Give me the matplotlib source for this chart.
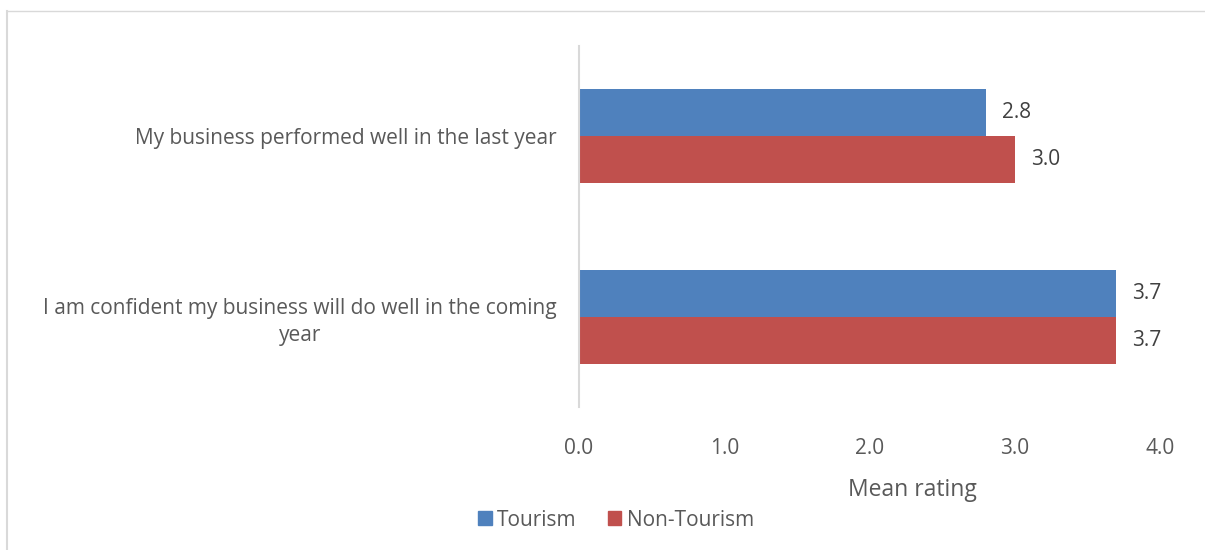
import matplotlib.pyplot as plt
from matplotlib.lines import Line2D
from matplotlib.patches import Patch

plt.rcParams['font.family'] = ['Open Sans', 'DejaVu Sans']

# survey statements, bottom to top
statements = ['I am confident my business will do well in the coming\nyear',
              'My business performed well in the last year']
tourism = [3.7, 2.8]
non_tourism = [3.7, 3.0]
series_names = ['Tourism', 'Non-Tourism']
xticks = [0.0, 1.0, 2.0, 3.0, 4.0]

blue = '#4F81BD'
red = '#C0504D'
txt = '#595959'
fs = 15

fig = plt.figure(figsize=(12.05, 5.5), dpi=100)
ax = fig.add_axes([0.4805, 0.26, 0.482, 0.6564])

h = 0.26
ypos = list(range(len(statements)))
b1 = ax.barh([y + h / 2 for y in ypos], tourism, height=h, color=blue, label=series_names[0])
b2 = ax.barh([y - h / 2 for y in ypos], non_tourism, height=h, color=red, label=series_names[1])

# value labels just past the bar ends
for bars, vals in ((b1, tourism), (b2, non_tourism)):
    for bar, v in zip(bars, vals):
        ax.annotate('{:.1f}'.format(v), (v, bar.get_y() + bar.get_height() / 2),
                    xytext=(16, 0), textcoords='offset pixels',
                    ha='left', va='center', fontsize=fs, color='#404040')

ax.set_xlim(0, 4)
ax.set_ylim(-0.5, 1.5)
ax.set_xticks(xticks)
ax.set_xticklabels(['{:.1f}'.format(t) for t in xticks], fontsize=fs, color=txt)
ax.set_yticks(ypos)
ax.set_yticklabels(statements, fontsize=fs, color=txt, multialignment='center', linespacing=1.35)
ax.tick_params(axis='x', length=0, pad=22)
ax.tick_params(axis='y', length=0, pad=16)
for s in ['top', 'right', 'bottom']:
    ax.spines[s].set_visible(False)
ax.spines['left'].set_color('#D9D9D9')
ax.spines['left'].set_linewidth(1.5)

fig.text(912 / 1205, 1 - 490 / 550, 'Mean rating', ha='center', va='center',
         fontsize=16.5, color=txt)

handles = [Patch(color=blue), Patch(color=red)]
fig.legend(handles, series_names, loc='center', bbox_to_anchor=(616 / 1205, 1 - 520 / 550),
           ncol=2, frameon=False, fontsize=fs, labelcolor=txt,
           handlelength=0.65, handleheight=0.65, handletextpad=0.25, columnspacing=1.5)

# chart frame (left and top edges)
fig.add_artist(Line2D([7.5 / 1205, 7.5 / 1205], [0, 1 - 11 / 550], color='#D9D9D9', lw=1.5))
fig.add_artist(Line2D([7.5 / 1205, 1], [1 - 11 / 550, 1 - 11 / 550], color='#D9D9D9', lw=1.0))

fig.savefig('out.png', dpi=100, facecolor='white')
